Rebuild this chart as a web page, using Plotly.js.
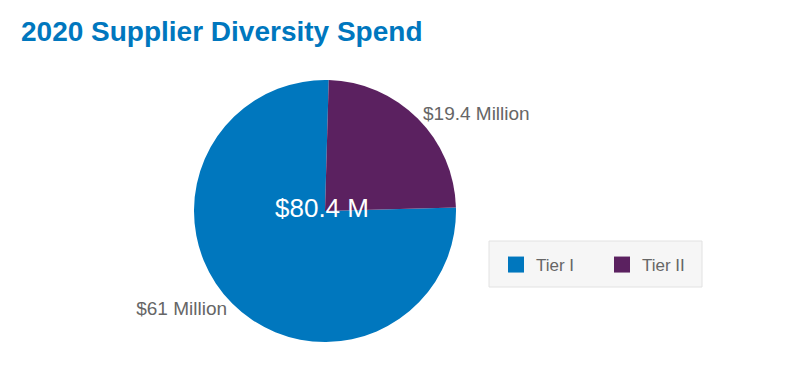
<!DOCTYPE html>
<html>
<head>
<meta charset="utf-8">
<script src="https://cdn.plot.ly/plotly-3.0.1.min.js"></script>
<style>
html,body{margin:0;padding:0;background:#fff;}
#chart{width:800px;height:392px;}
</style>
</head>
<body>
<div id="chart"></div>
<script>
// ---- data ----
const categories = ['Tier I', 'Tier II'];
const values = [61, 19.4];           // $ millions
const totalLabel = '$80.4 M';
const chartTitle = '2020 Supplier Diversity Spend';

// ---- styles ----
const COLORS = ['#0077be', '#5b2160'];
const GRAY = '#666666';
const FONT = 'Arial, Liberation Sans, sans-serif';

const pie = {
  type: 'pie',
  labels: categories,
  values: values,
  sort: false,
  direction: 'clockwise',
  rotation: 88.5,
  marker: {colors: COLORS, line: {width: 0}},
  texttemplate: '$%{value} Million',
  textposition: 'outside',
  textfont: {family: FONT, size: 19, color: GRAY},
  hoverinfo: 'label+value',
  showlegend: false,
  domain: {x: [194/800, 456/800], y: [1 - 342/392, 1 - 80/392]}
};

// legend proxies (square swatches)
const legendProxies = categories.map((c, i) => ({
  type: 'scatter', mode: 'markers', x: [null], y: [null], name: c,
  marker: {symbol: 'square', size: 20, color: COLORS[i]},
  showlegend: true, hoverinfo: 'skip'
}));

const layout = {
  width: 800, height: 392,
  margin: {l: 0, r: 0, t: 0, b: 0},
  paper_bgcolor: '#ffffff', plot_bgcolor: '#ffffff',
  title: {
    text: '<b>' + chartTitle + '</b>',
    x: 21/800, xanchor: 'left', xref: 'container',
    y: 1 - 31/392, yanchor: 'middle', yref: 'container',
    font: {family: FONT, size: 28, color: '#0077be'}
  },
  xaxis: {visible: false, fixedrange: true},
  yaxis: {visible: false, fixedrange: true},
  showlegend: true,
  legend: {
    orientation: 'h',
    x: 495/800, xanchor: 'left',
    y: 1 - 246/392, yanchor: 'top',
    bgcolor: 'rgba(0,0,0,0)', bordercolor: 'rgba(0,0,0,0)', borderwidth: 1,
    font: {family: FONT, size: 17, color: GRAY},
    entrywidth: 61, entrywidthmode: 'pixels'
  },
  shapes: [{
    type: 'rect', xref: 'paper', yref: 'paper', layer: 'below',
    x0: 489/800, x1: 702/800, y0: 1 - 287/392, y1: 1 - 241/392,
    fillcolor: '#f6f6f6', line: {color: '#e2e2e2', width: 1}
  }],
  annotations: [{
    text: totalLabel, showarrow: false,
    xref: 'paper', yref: 'paper',
    x: 322/800, y: 1 - 208/392,
    xanchor: 'center', yanchor: 'middle',
    font: {family: FONT, size: 26, color: '#ffffff'}
  }]
};

Plotly.newPlot('chart', [pie].concat(legendProxies), layout, {displayModeBar: false, staticPlot: true});
</script>
</body>
</html>
